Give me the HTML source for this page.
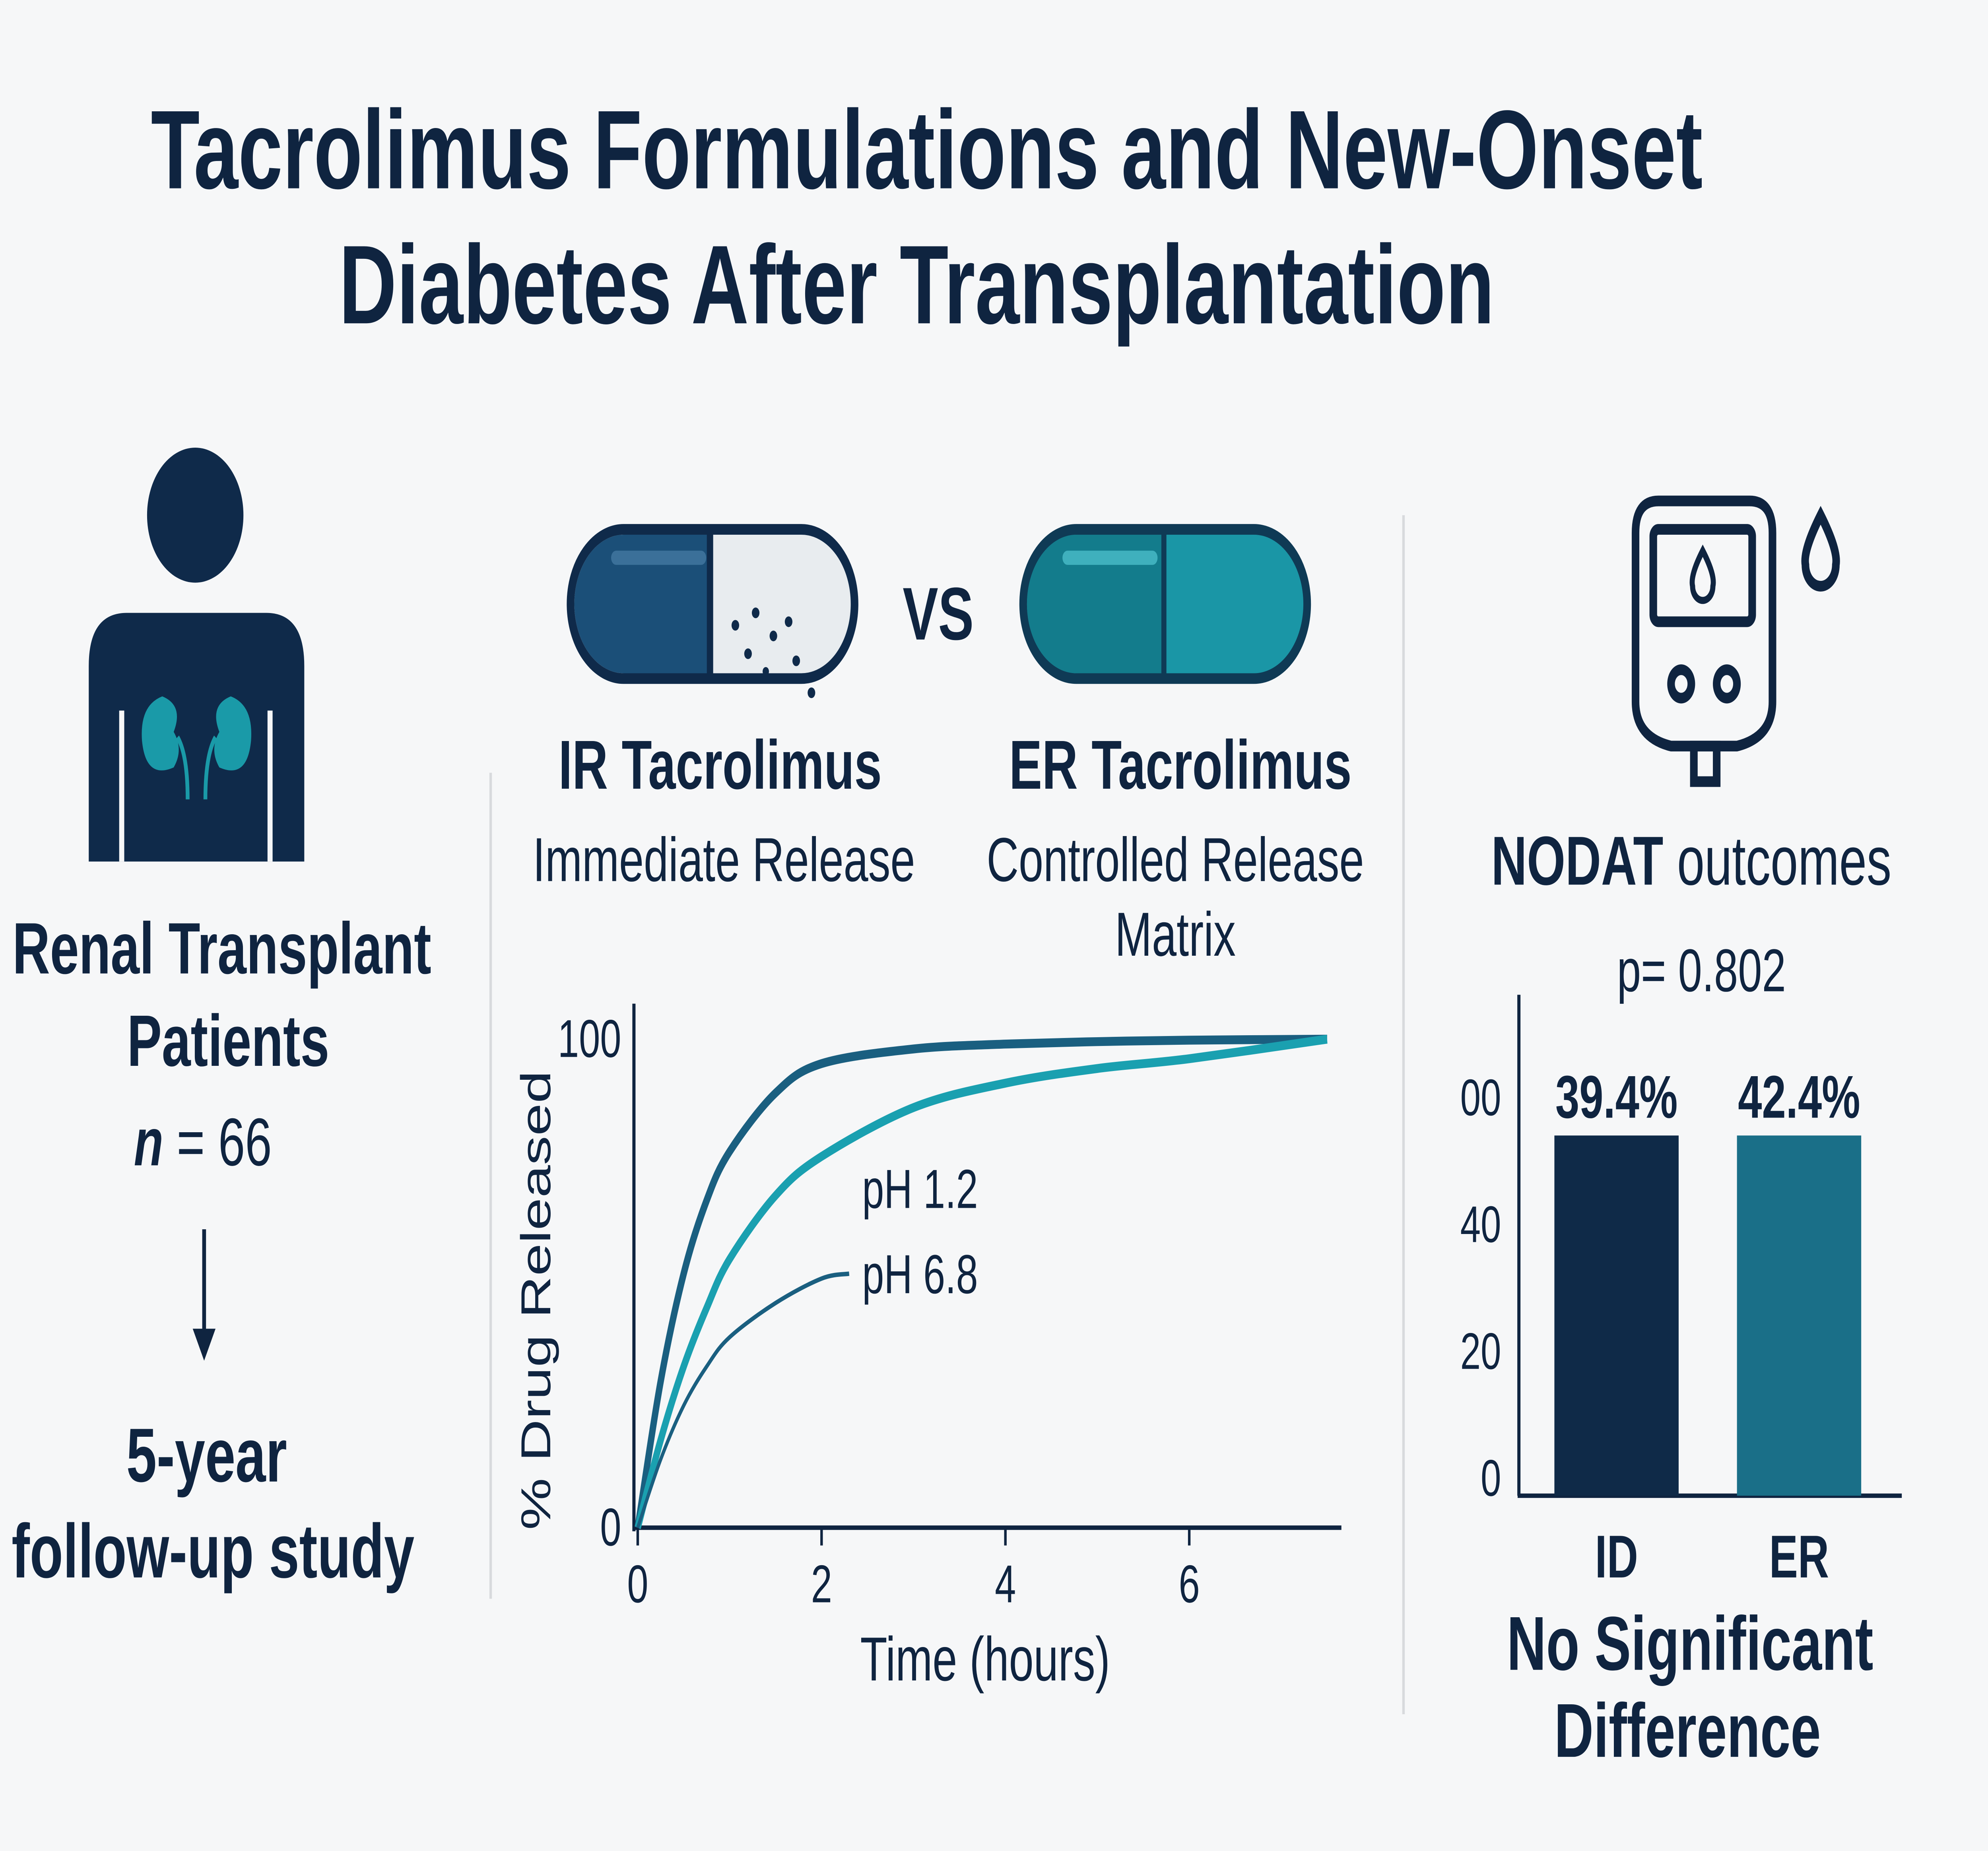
<!DOCTYPE html>
<html><head><meta charset="utf-8"><style>
html,body{margin:0;padding:0;background:#f6f7f8;overflow:hidden;}
#wrap{width:100vw;height:100vh;overflow:hidden;position:relative;}
svg{display:block;font-family:"Liberation Sans",sans-serif;width:100vw;height:100vh;}
</style></head><body>
<div id="wrap">
<svg id="root" viewBox="0 0 1568 1042" preserveAspectRatio="none" xmlns="http://www.w3.org/2000/svg">
<rect width="1568" height="1042" fill="#f6f7f8"/>
<g font-weight="bold" fill="#0f2440" font-size="63" text-anchor="middle">
<text x="731" y="106">Tacrolimus Formulations and New-Onset</text>
<text x="723" y="182">Diabetes After Transplantation</text>
</g>
<g>
<circle cx="154" cy="290" r="38" fill="#0f2a4a"/>
<path d="M70,485 L70,375 Q70,345 100,345 L210,345 Q240,345 240,375 L240,485 Z" fill="#0f2a4a"/>
<line x1="96" y1="400" x2="96" y2="485" stroke="#f6f7f8" stroke-width="4"/>
<line x1="213" y1="400" x2="213" y2="485" stroke="#f6f7f8" stroke-width="4"/>
<path d="M128,392 q-18,5 -16,25 q3,22 25,15 q8,-10 0,-20 q8,-15 -9,-20z" fill="#1a9aa8"/>
<path d="M182,392 q18,5 16,25 q-3,22 -25,15 q-8,-10 0,-20 q-8,-15 9,-20z" fill="#1a9aa8"/>
<path d="M140,415 q8,10 8,35 M170,415 q-8,10 -8,35" stroke="#1a9aa8" stroke-width="3" fill="none"/>
</g>
<g fill="#0f2440" text-anchor="middle">
<text x="175" y="548" font-size="41" font-weight="bold">Renal Transplant</text>
<text x="180" y="600" font-size="41" font-weight="bold">Patients</text>
<text x="160" y="656" font-size="38"><tspan font-style="italic" font-weight="bold">n</tspan> = 66</text>
<line x1="161" y1="692" x2="161" y2="752" stroke="#0f2440" stroke-width="3"/>
<path d="M152,748 L170,748 L161,766 Z" fill="#0f2440"/>
<text x="163" y="834" font-size="43" font-weight="bold">5-year</text>
<text x="168" y="888" font-size="43" font-weight="bold">follow-up study</text>
</g>
<line x1="387" y1="435" x2="387" y2="900" stroke="#d8dadd" stroke-width="2"/>
<line x1="1107" y1="290" x2="1107" y2="965" stroke="#d8dadd" stroke-width="2"/>
<g>
<rect x="450" y="298" width="224" height="84" rx="42" fill="#e8ecef" stroke="#0f2a4a" stroke-width="6"/>
<path d="M492,301 L560,301 L560,379 L492,379 A39,39 0 0 1 492,301Z" fill="#1b4f78"/>
<line x1="560" y1="300" x2="560" y2="380" stroke="#0f2a4a" stroke-width="5"/>
<rect x="482" y="310" width="75" height="8" rx="4" fill="#3b7099"/>
<g fill="#0f2a4a"><circle cx="580" cy="352" r="3"/><circle cx="596" cy="345" r="3"/><circle cx="610" cy="358" r="3"/><circle cx="590" cy="368" r="3"/><circle cx="622" cy="350" r="3"/><circle cx="628" cy="372" r="3"/><circle cx="640" cy="390" r="3"/><circle cx="604" cy="378" r="2.5"/></g>
</g>
<text x="740" y="360" font-size="42" font-weight="bold" fill="#0f2440" text-anchor="middle">VS</text>
<g>
<rect x="807" y="298" width="224" height="84" rx="42" fill="#1a96a6" stroke="#0f3a55" stroke-width="6"/>
<path d="M849,301 L918,301 L918,379 L849,379 A39,39 0 0 1 849,301Z" fill="#137c8c"/>
<line x1="918" y1="300" x2="918" y2="380" stroke="#0f3a55" stroke-width="4"/>
<rect x="838" y="310" width="75" height="8" rx="4" fill="#3fb0bd"/>
</g>
<g fill="#0f2440" text-anchor="middle">
<text x="568" y="444" font-size="39" font-weight="bold">IR Tacrolimus</text>
<text x="571" y="496" font-size="35">Immediate Release</text>
<text x="931" y="444" font-size="39" font-weight="bold">ER Tacrolimus</text>
<text x="927" y="496" font-size="35">Controlled Release</text>
<text x="927" y="538" font-size="35">Matrix</text>
</g>
<g id="release-chart"></g>
<g fill="none" stroke="#0f2440" stroke-width="6">
<path d="M1290,300 Q1290,282 1308,282 L1380,282 Q1398,282 1398,300 L1398,395 Q1398,415 1370,420 L1318,420 Q1290,415 1290,395 Z"/>
<rect x="1304" y="298" width="78" height="52" rx="4"/>
<path d="M1343,310 q-10,14 -8,20 a8,8 0 0 0 16,0 q2,-6 -8,-20z" stroke-width="4"/>
<circle cx="1326" cy="385" r="8"/><circle cx="1362" cy="385" r="8"/>
<rect x="1336" y="420" width="18" height="20"/>
<path d="M1436,290 q-14,20 -12,28 a12,12 0 0 0 24,0 q2,-8 -12,-28z"/>
</g>
<g fill="#0f2440" text-anchor="middle">
<text x="1334" y="498" font-size="39"><tspan font-weight="bold">NODAT</tspan> outcomes</text>
<text x="1342" y="558" font-size="34">p= 0.802</text>
<text x="1333" y="940" font-size="43" font-weight="bold">No Significant</text>
<text x="1331" y="989" font-size="43" font-weight="bold">Difference</text>
</g>
<g id="bar-chart"></g>
</svg>
</div>
<script>
var hours=[0,0.25,0.5,0.75,1,1.5,2,3,4,5,6,7.5];
var irRelease=[0,30,52,67,77,89,95,98,99,99.5,99.8,100];
var erRelease=[0,18,33,45,55,68,76,86,91,94,96,100];
var phHours=[0,0.25,0.5,0.75,1,1.5,2,2.3];
var ph68Release=[0,14,25,33,39,46,51,52];
var xTicks=[0,2,4,6];
var yTicks=[0,100];
var groups=['ID','ER'];
var barHeights=[54,54];
var barLabels=['39.4%','42.4%'];
var barTickVals=[0,20,40,60];
var barTickText=['0','20','40','00'];

var ns="http://www.w3.org/2000/svg";
function mk(p,t,a){var e=document.createElementNS(ns,t);for(var k in a){e.setAttribute(k,a[k]);}p.appendChild(e);return e;}
var rc=document.getElementById('release-chart');
function xs(v){return 503+v*72.5;}
function ys(v){return 860-v*2.75;}
mk(rc,'line',{x1:500,y1:860,x2:1058,y2:860,stroke:'#0f2440','stroke-width':2.5});
mk(rc,'line',{x1:500,y1:565,x2:500,y2:862,stroke:'#0f2440','stroke-width':2.5});
xTicks.forEach(function(t){
 var l=mk(rc,'line',{x1:xs(t),y1:860,x2:xs(t),y2:870,stroke:'#0f2440','stroke-width':2});
 
 
 var tx=mk(rc,'text',{x:xs(t),y:902,'font-size':30,'text-anchor':'middle',fill:'#0f2440'});tx.textContent=t;
 
 
});
yTicks.forEach(function(t){
 var tx=mk(rc,'text',{x:490,y:ys(t)+10,'font-size':30,'text-anchor':'end',fill:'#0f2440'});tx.textContent=t;
 
 
});
function smooth(xa,ya){
 var p=xa.map(function(x,i){return [xs(x),ys(ya[i])];});var d='M'+p[0][0]+','+p[0][1];
 for(var i=0;i+1<p.length;i++){var p0=p[i-1]||p[i],p1=p[i],p2=p[i+1],p3=p[i+2]||p2;
 d+='C'+(p1[0]+(p2[0]-p0[0])/6)+','+(p1[1]+(p2[1]-p0[1])/6)+' '+(p2[0]-(p3[0]-p1[0])/6)+','+(p2[1]-(p3[1]-p1[1])/6)+' '+p2[0]+','+p2[1];}
 return d;}
var c1=mk(rc,'path',{d:smooth(hours,irRelease),fill:'none',stroke:'#1a5f80','stroke-width':5});


var c2=mk(rc,'path',{d:smooth(hours,erRelease),fill:'none',stroke:'#1aa0b0','stroke-width':5});


var c3=mk(rc,'path',{d:smooth(phHours,ph68Release),fill:'none',stroke:'#1a5f80','stroke-width':2.5});


var l1=mk(rc,'text',{x:680,y:680,'font-size':31,fill:'#0f2440'});l1.textContent='pH 1.2';


var l2=mk(rc,'text',{x:680,y:728,'font-size':31,fill:'#0f2440'});l2.textContent='pH 6.8';


var xt=mk(rc,'text',{x:777,y:946,'font-size':35,'text-anchor':'middle',fill:'#0f2440'});xt.textContent='Time (hours)';


var yt=mk(rc,'text',{x:0,y:0,'font-size':33,'text-anchor':'middle',fill:'#0f2440',transform:'translate(434,732) rotate(-90)'});yt.textContent='% Drug Released';



var bc=document.getElementById('bar-chart');
function by(v){return 832-v*3.57;}
var colors=['#0f2a48','#1a6f88'];
mk(bc,'line',{x1:1198,y1:560,x2:1198,y2:842,stroke:'#0f2440','stroke-width':2.5});
mk(bc,'line',{x1:1197,y1:842,x2:1500,y2:842,stroke:'#0f2440','stroke-width':2.5});
barTickVals.forEach(function(v,i){
 var t=mk(bc,'text',{x:1184,y:by(v)+10,'font-size':29,'text-anchor':'end',fill:'#0f2440'});t.textContent=barTickText[i];
 
 
});
groups.forEach(function(g,i){
 var x=1226+i*144;
 var r=mk(bc,'rect',{x:x,y:by(barHeights[i]),width:98,height:842-by(barHeights[i]),fill:colors[i]});
 
 
 var v=mk(bc,'text',{x:x+49,y:by(barHeights[i])-10,'font-size':34,'font-weight':'bold','text-anchor':'middle',fill:'#0f2440'});v.textContent=barLabels[i];
 
 
 var c=mk(bc,'text',{x:x+49,y:888,'font-size':34,'font-weight':'bold','text-anchor':'middle',fill:'#0f2440'});c.textContent=g;
 
 
});
</script>
</body></html>
